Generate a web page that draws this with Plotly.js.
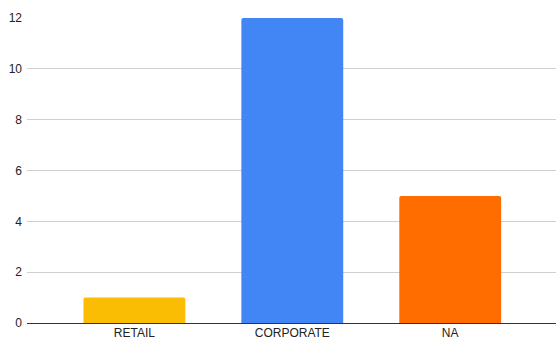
<!DOCTYPE html>
<html>
<head>
<meta charset="utf-8">
<script src="https://cdn.plot.ly/plotly-3.0.1.min.js"></script>
<style>html,body{margin:0;padding:0;background:#fff;}#chart{width:556px;height:340px;}</style>
</head>
<body>
<div id="chart"></div>
<script>
const categories = ["RETAIL", "CORPORATE", "NA"];
const values = [1, 12, 5];
const barColors = ["#FBBC04", "#4285F4", "#FF6D01"];
const yTicks = [0, 2, 4, 6, 8, 10, 12];

const trace = {
  type: "bar",
  x: categories,
  y: values,
  marker: { color: barColors, line: { width: 0 }, cornerradius: 2 },
  hoverinfo: "x+y"
};

const layout = {
  width: 556,
  height: 340,
  margin: { l: 27, r: 0, t: 18, b: 17, pad: 0 },
  paper_bgcolor: "#ffffff",
  plot_bgcolor: "#ffffff",
  font: { family: "Liberation Sans, Arial, sans-serif", size: 12, color: "#222222" },
  bargap: 0.355,
  showlegend: false,
  xaxis: {
    type: "category",
    range: [-0.68, 2.67],
    showgrid: false,
    showline: false,
    zeroline: false,
    ticks: "",
    ticklabelstandoff: 1,
    fixedrange: true
  },
  yaxis: {
    range: [0, 12],
    tickvals: yTicks,
    ticktext: yTicks.map(String),
    showgrid: true,
    gridcolor: "#d0d0d0",
    gridwidth: 1,
    zeroline: true,
    zerolinecolor: "#333333",
    zerolinewidth: 1,
    showline: false,
    ticks: "",
    ticklabelstandoff: 4,
    fixedrange: true
  }
};

Plotly.newPlot("chart", [trace], layout, { displayModeBar: false, staticPlot: true });
</script>
</body>
</html>
